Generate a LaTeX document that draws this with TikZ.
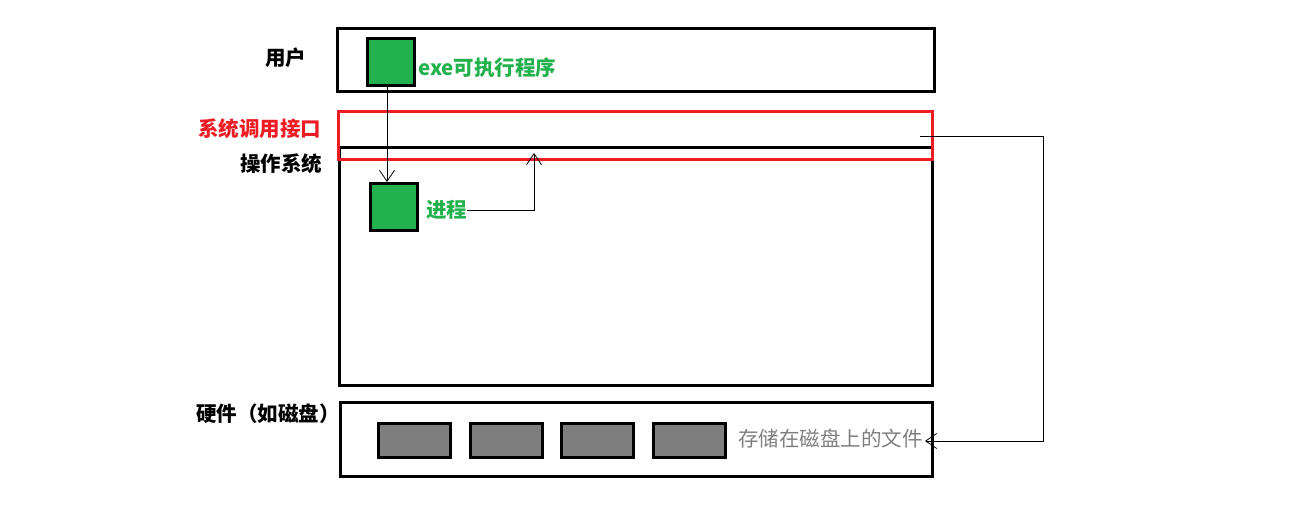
\documentclass[tikz,border=0pt]{standalone}
\usepackage{fontspec}
\setmainfont{Noto Sans CJK SC}
\usetikzlibrary{arrows.meta}
\definecolor{pgreen}{HTML}{22B14C}
\definecolor{pred}{HTML}{ED1C24}
\definecolor{pgray}{HTML}{7F7F7F}
\tikzset{
  box/.style={draw=black, line width=3pt, rectangle, inner sep=0pt},
  redbox/.style={draw=pred, line width=3pt, rectangle, inner sep=0pt},
  gsq/.style={draw=black, line width=3pt, fill=pgreen, inner sep=0pt, minimum width=47pt, minimum height=47pt},
  dsk/.style={draw=black, line width=3pt, fill=pgray, inner sep=0pt, minimum width=72pt, minimum height=34pt},
  lbl/.style={inner sep=0pt, anchor=west, font=\fontsize{20.5pt}{23pt}\selectfont\bfseries},
  arr/.style={line width=1pt, -{Straight Barb[length=11pt,width=15pt,line width=0.8pt]}},
  ln/.style={line width=1pt}
}
\begin{document}
\begin{tikzpicture}[x=1pt,y=-1pt]
\useasboundingbox (0,0) rectangle (1292,506);
% boxes
\node[box, minimum width=597pt, minimum height=63pt] (user) at (636,60) {};
\node[box, minimum width=593pt, minimum height=238pt] (os) at (636,266.5) {};
\node[redbox, minimum width=594pt, minimum height=48pt] (sys) at (635.5,135.5) {};
\node[box, minimum width=592pt, minimum height=74pt] (hw) at (636.5,439.5) {};
% squares
\node[gsq] (exe) at (391,62) {};
\node[gsq] (proc) at (394,207) {};
\node[dsk] (d1) at (414.5,440.5) {};
\node[dsk] (d2) at (506,440.5) {};
\node[dsk] (d3) at (597.5,440.5) {};
\node[dsk] (d4) at (689,440.5) {};
% labels
\node[lbl] (luser) at (265,58) {用户};
\node[lbl, text=pred] (lsys) at (198,129) {系统调用接口};
\node[lbl] (los) at (240,164) {操作系统};
\node[lbl] (lhw) at (196,414) {硬件（如磁盘）};
\node[lbl, text=pgreen] (lexe) at (418,68) {exe可执行程序};
\node[lbl, text=pgreen] (ljc) at (426,210) {进程};
\node[lbl, text=pgray, font=\fontsize{20.5pt}{23pt}\selectfont] (files) at (738,439) {存储在磁盘上的文件};
% connectors
\draw[arr] ([xshift=-4pt]exe.south) -- ([xshift=-7pt]proc.north);
\coordinate (a2) at (534,153);
\draw[arr] (ljc.east) -| (a2);
\coordinate (r1) at (920,136);
\coordinate (r2) at (1043,136);
\coordinate (r3) at (1043,441);
\coordinate (r4) at (925,441);
\draw[arr] (r1) -- (r2) -- (r3) -- (r4);
\end{tikzpicture}
\end{document}
